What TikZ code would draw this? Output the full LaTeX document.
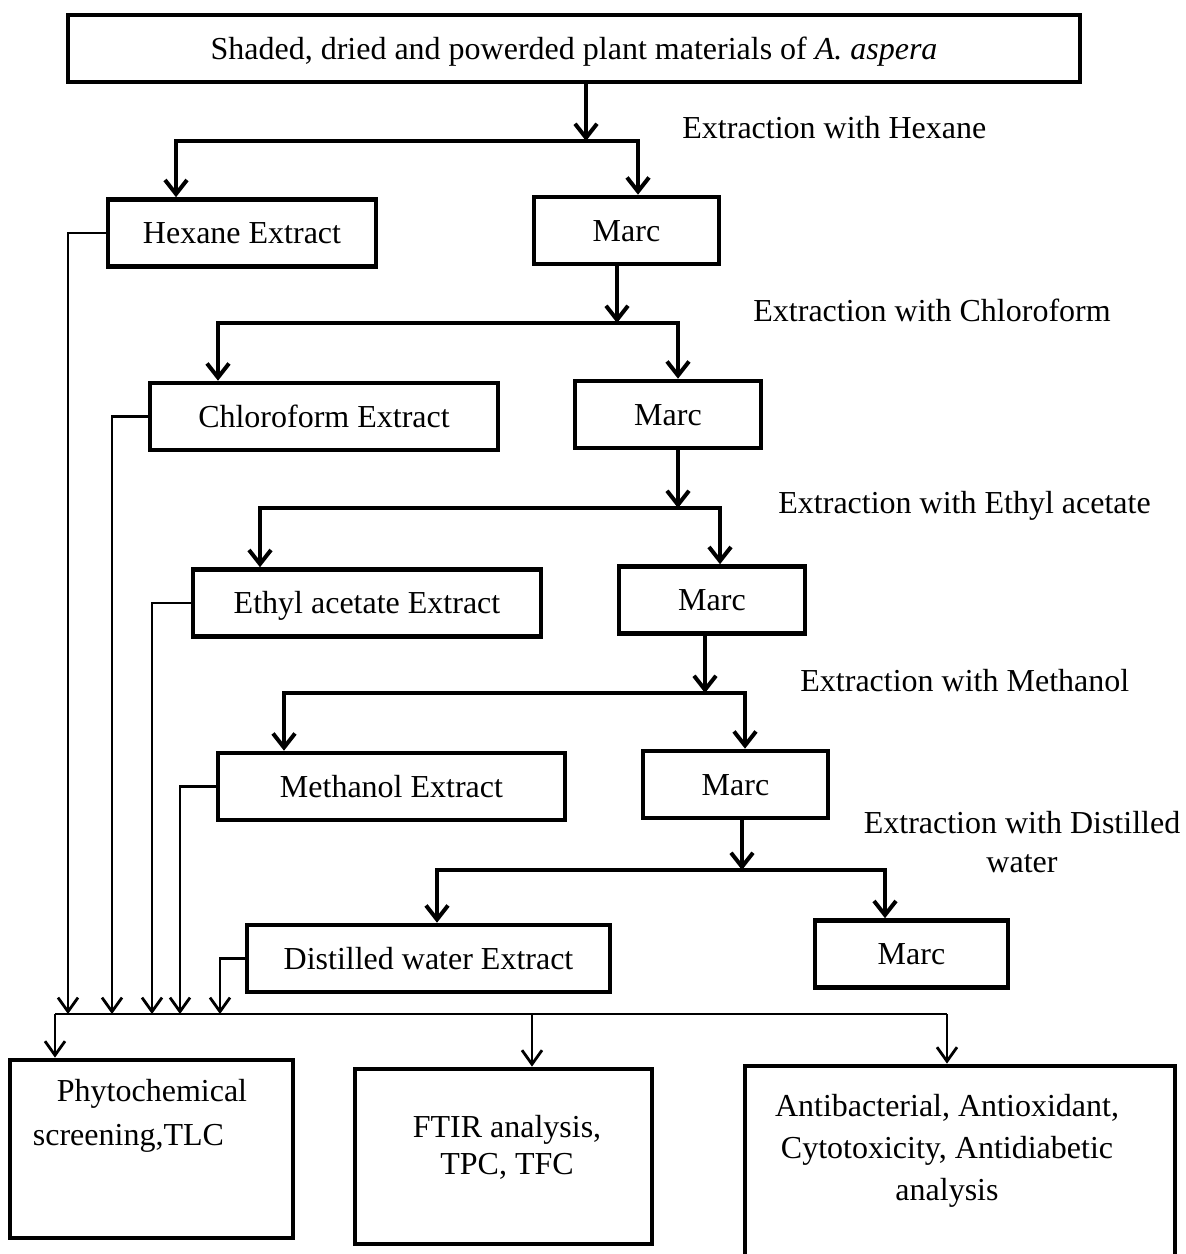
\documentclass[tikz,border=0pt]{standalone}
\usepackage{fontspec}
\setmainfont{Liberation Serif}
\usetikzlibrary{arrows.meta}

\begin{document}
\begin{tikzpicture}[
      x=0.5pt, y=-0.5pt,
      every node/.style={inner sep=0pt,font=\fontsize{16}{20}\selectfont},
      box/.style={draw,line width=2.3pt,minimum height=33.5pt,text height=10.6pt,text depth=0pt},
      result/.style={draw,line width=2.4pt},
      solvent/.style={anchor=west},
      flow/.style={line width=2pt,-{Straight Barb[length=7pt,width=11pt]}},
      split/.style={line width=2pt,{Straight Barb[length=7pt,width=11pt]}-{Straight Barb[length=7pt,width=11pt]}},
      feed/.style={line width=1.4pt,-{Straight Barb[length=7pt,width=10pt]}}
    ]
      \useasboundingbox (0,0) rectangle (1185,1254);

      \node[box,minimum width=506pt] (top) at (574,48.5) {Shaded, dried and powerded plant materials of \textit{A. aspera}};
      \node[box,minimum width=134pt] (hexext) at (242,233) {Hexane Extract};
      \node[box,minimum width=92.5pt] (marc1) at (626.5,230.5) {Marc};
      \node[box,minimum width=174pt] (chlext) at (324,416.5) {Chloroform Extract};
      \node[box,minimum width=93pt] (marc2) at (668,414.5) {Marc};
      \node[box,minimum width=174pt] (ethext) at (367,603) {Ethyl acetate Extract};
      \node[box,minimum width=93pt] (marc3) at (712,600) {Marc};
      \node[box,minimum width=173.5pt] (methext) at (391.5,786.5) {Methanol Extract};
      \node[box,minimum width=92.5pt] (marc4) at (735.5,784.5) {Marc};
      \node[box,minimum width=181.5pt] (distext) at (428.5,958.5) {Distilled water Extract};
      \node[box,minimum width=96.5pt] (marc5) at (911.5,954) {Marc};

      \node[solvent] (hexlbl) at (682,128) {Extraction with Hexane};
      \node[solvent] (chllbl) at (753,310) {Extraction with Chloroform};
      \node[solvent] (ethlbl) at (778,506) {Extraction with Ethyl acetate};
      \node[solvent] (methlbl) at (800,681) {Extraction with Methanol};
      \node[align=center,font=\fontsize{16}{19.5}\selectfont] (distlbl) at (1022,842) {Extraction with Distilled\\water};

      \node[result,minimum width=141.5pt,minimum height=89pt] (phyto) at (151.5,1149) {};
      \node[align=left,font=\fontsize{16}{22}\selectfont] (phytotxt) at (140,1116) {\hspace{12pt}Phytochemical\\screening,TLC};
      \node[result,minimum width=148.5pt,minimum height=87.5pt] (ftir) at (503.5,1156.5) {};
      \node[align=center,font=\fontsize{16}{18.5}\selectfont] (ftirtxt) at (507,1147.5) {FTIR analysis,\\TPC, TFC};
      \node[result,minimum width=215pt,minimum height=98pt] (bio) at (960,1164) {};
      \node[align=center,font=\fontsize{16}{21}\selectfont] (biotxt) at (947,1151) {Antibacterial, Antioxidant,\\Cytotoxicity, Antidiabetic\\analysis};

      \coordinate (s1) at (586,141); \coordinate (s1l) at (176,141); \coordinate (s1r) at (638,141);
      \coordinate (s2) at (617,323); \coordinate (s2l) at (218,323); \coordinate (s2r) at (678,323);
      \coordinate (s3) at (678,508); \coordinate (s3l) at (260,508); \coordinate (s3r) at (720,508);
      \coordinate (s4) at (705,693); \coordinate (s4l) at (284,693); \coordinate (s4r) at (745,693);
      \coordinate (s5) at (742,870); \coordinate (s5l) at (437,870); \coordinate (s5r) at (885,870);

      \draw[flow] (top.south -| s1) -- (s1);
      \draw[split] (s1l |- hexext.north) -- (s1l) -- (s1r) -- (s1r |- marc1.north);
      \draw[flow] (marc1.south -| s2) -- (s2);
      \draw[split] (s2l |- chlext.north) -- (s2l) -- (s2r) -- (s2r |- marc2.north);
      \draw[flow] (marc2.south -| s3) -- (s3);
      \draw[split] (s3l |- ethext.north) -- (s3l) -- (s3r) -- (s3r |- marc3.north);
      \draw[flow] (marc3.south -| s4) -- (s4);
      \draw[split] (s4l |- methext.north) -- (s4l) -- (s4r) -- (s4r |- marc4.north);
      \draw[flow] (marc4.south -| s5) -- (s5);
      \draw[split] (s5l |- distext.north) -- (s5l) -- (s5r) -- (s5r |- marc5.north);

      \coordinate (b1) at (68,1014); \coordinate (b2) at (112,1014); \coordinate (b3) at (152,1014);
      \coordinate (b4) at (180,1014); \coordinate (b5) at (220,1014);
      \coordinate (busl) at (55,1014); \coordinate (busm) at (532,1014); \coordinate (busr) at (947,1014);

      \draw[feed] (hexext.west) -| (b1);
      \draw[feed] (chlext.west) -| (b2);
      \draw[feed] (ethext.west) -| (b3);
      \draw[feed] (methext.west) -| (b4);
      \draw[feed] (distext.west) -| (b5);
      \draw[line width=1.2pt] (busl) -- (busr);
      \draw[feed] (busl) -- (busl |- phyto.north);
      \draw[feed] (busm) -- (busm |- ftir.north);
      \draw[feed] (busr) -- (busr |- bio.north);
    \end{tikzpicture}
\end{document}
